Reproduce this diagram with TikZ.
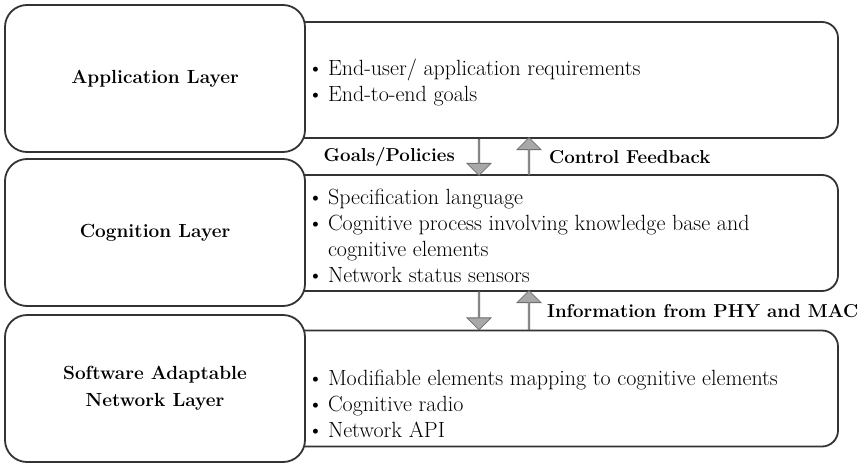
\documentclass[tikz,border=0pt]{standalone}
\usepackage{fontspec}
\usetikzlibrary{shapes.arrows}
\definecolor{boxline}{HTML}{333333}
\definecolor{arrfill}{HTML}{A8A8A8}
\definecolor{arrline}{HTML}{6E6E6E}
\newcommand{\bul}{\textbullet\hspace{4.5pt}}
\begin{document}
\begin{tikzpicture}[x=1pt,y=-1pt,
  layerbox/.style={draw=boxline,line width=1.8pt,fill=white,rounded corners=22pt,
    minimum width=300pt,minimum height=147pt,inner sep=0pt,align=center,
    font=\fontsize{19}{27}\selectfont\bfseries},
  infobox/.style={draw=boxline,line width=1.8pt,fill=white,rounded corners=16pt,
    minimum width=558pt,minimum height=116pt,inner sep=0pt},
  infotext/.style={anchor=west,align=left,inner sep=0pt,
    font=\fontsize{22}{26}\selectfont},
  fatarrow/.style={shape=single arrow,draw=arrline,fill=arrfill,line width=0.8pt,
    single arrow head extend=6pt,minimum width=24pt,inner sep=0pt,
    single arrow head indent=0pt},
  lbl/.style={inner sep=0pt,font=\fontsize{18.7}{20}\selectfont\bfseries}]
\useasboundingbox (0,0) rectangle (864,463);
\fill[white] (0,0) rectangle (864,463);
% right info boxes (left part hidden under the layer boxes)
\node[infobox] (appR) at (559,80) {};
\node[infobox] (cogR) at (559,233) {};
\node[infobox] (swR) at (559,388.5) {};
% left layer boxes
\node[layerbox] (app) at (155,78.5) {Application Layer};
\node[layerbox] (cog) at (155,232.5) {Cognition Layer};
\node[layerbox] (sw) at (155,388.5) {Software Adaptable\\Network Layer};
% texts
\node[infotext] (appT) at (307.5,83) {\bul End-user/ application requirements\\
  \bul End-to-end goals};
\node[infotext] (cogT) at (307.5,235.5) {\bul Specification language\\
  \bul Cognitive process involving knowledge base and\\
  \phantom{\bul}cognitive elements\\
  \bul Network status sensors};
\node[infotext] (swT) at (307.5,404) {\bul Modifiable elements mapping to cognitive elements\\
  \bul Cognitive radio\\
  \bul Network API};
% arrows
\node[fatarrow,shape border rotate=270,minimum height=36pt] (d1) at (479,157) {};
\node[fatarrow,shape border rotate=90,minimum height=37pt] (u1) at (529,156.5) {};
\node[fatarrow,shape border rotate=270,minimum height=38pt] (d2) at (479,310.5) {};
\node[fatarrow,shape border rotate=90,minimum height=39pt] (u2) at (529,310.5) {};
% labels
\node[lbl,anchor=east] (gp) at (455,157) {Goals/Policies};
\node[lbl,anchor=west] (cf) at (549,157) {Control Feedback};
\node[lbl,anchor=west] (info) at (547,311) {Information from PHY and MAC};
\end{tikzpicture}
\end{document}
